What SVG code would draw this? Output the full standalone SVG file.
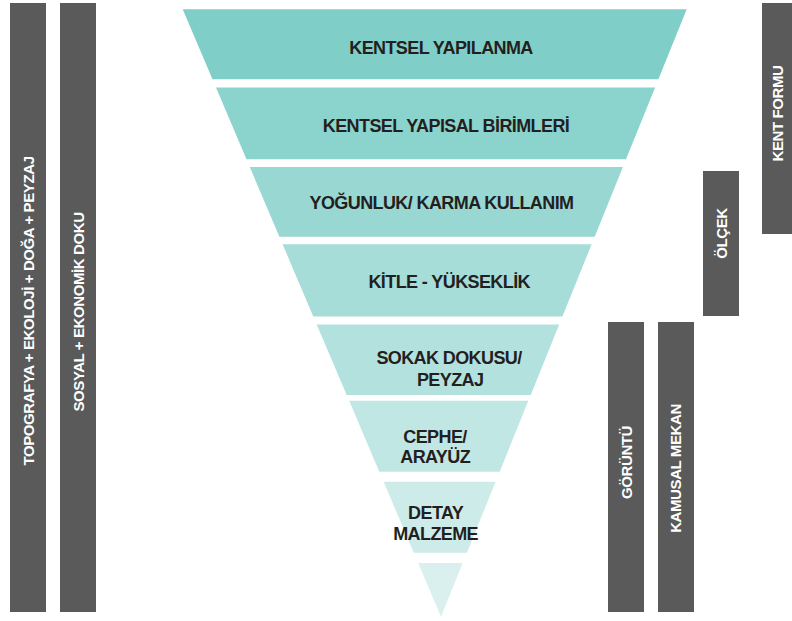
<svg xmlns="http://www.w3.org/2000/svg" width="792" height="621" viewBox="0 0 792 621">
<style>
.bar{fill:#5a5a5a}
.vt{font-family:"Liberation Sans",Arial,sans-serif;font-weight:bold;font-size:15px;letter-spacing:-0.4px;fill:#ffffff;text-anchor:middle}
.lb{font-family:"Liberation Sans",Arial,sans-serif;font-weight:bold;font-size:18px;letter-spacing:-0.6px;fill:#231f20;text-anchor:middle}
</style>
<rect width="792" height="621" fill="#ffffff"/>
<g id="bar-topografya"><rect class="bar" x="10" y="3" width="36" height="609"/><text class="vt" transform="translate(33.5,311) rotate(-90)">TOPOGRAFYA + EKOLOJİ + DOĞA + PEYZAJ</text></g>
<g id="bar-sosyal"><rect class="bar" x="60" y="3" width="36" height="609"/><text class="vt" transform="translate(83.5,312) rotate(-90)">SOSYAL + EKONOMİK DOKU</text></g>
<g id="bar-kentformu"><rect class="bar" x="762" y="3" width="30" height="231"/><text class="vt" transform="translate(783,113.5) rotate(-90)">KENT FORMU</text></g>
<g id="bar-olcek"><rect class="bar" x="703" y="171" width="36" height="145"/><text class="vt" transform="translate(726.5,233.5) rotate(-90)">ÖLÇEK</text></g>
<g id="bar-goruntu"><rect class="bar" x="608" y="322" width="36" height="290"/><text class="vt" transform="translate(631.8,462.5) rotate(-90)">GÖRÜNTÜ</text></g>
<g id="bar-kamusal"><rect class="bar" x="658" y="322" width="36" height="290"/><text class="vt" transform="translate(680.8,468.5) rotate(-90)">KAMUSAL MEKAN</text></g>
<g id="band1"><polygon points="182.7,9.3 686.7,9.3 658.4,79.3 212.5,79.3" fill="#7fcec7"/><text class="lb" x="441" y="54.3">KENTSEL YAPILANMA</text></g>
<g id="band2"><polygon points="216,87.5 655.1,87.5 626,159.3 246.5,159.3" fill="#8bd3cd"/><text class="lb" x="446" y="132.3">KENTSEL YAPISAL BİRİMLERİ</text></g>
<g id="band3"><polygon points="249.8,167 622.9,167 594.7,236.7 279.4,236.7" fill="#98d7d2"/><text class="lb" x="441.5" y="209.3">YOĞUNLUK/ KARMA KULLANIM</text></g>
<g id="band4"><polygon points="282.6,244.3 591.6,244.3 562.4,316.5 313.3,316.5" fill="#a6ddd8"/><text class="lb" x="449.2" y="287.7">KİTLE - YÜKSEKLİK</text></g>
<g id="band5"><polygon points="316.7,324.5 559.2,324.5 530.7,395 346.7,395" fill="#b3e2de"/><text class="lb" x="449" y="364.3">SOKAK DOKUSU/</text><text class="lb" x="450.2" y="386">PEYZAJ</text></g>
<g id="band6"><polygon points="349.2,400.8 528.3,400.8 499.7,471.7 379.3,471.7" fill="#c0e7e3"/><text class="lb" x="435" y="442.7">CEPHE/</text><text class="lb" x="435.2" y="462.7">ARAYÜZ</text></g>
<g id="band7"><polygon points="383.6,481.7 495.6,481.7 466.9,552.7 413.8,552.7" fill="#cdece9"/><text class="lb" x="435.6" y="518.7">DETAY</text><text class="lb" x="435.6" y="540">MALZEME</text></g>
<g id="band8"><polygon points="418.2,563 462.7,563 441,616.7" fill="#daf0ee"/></g>
</svg>
